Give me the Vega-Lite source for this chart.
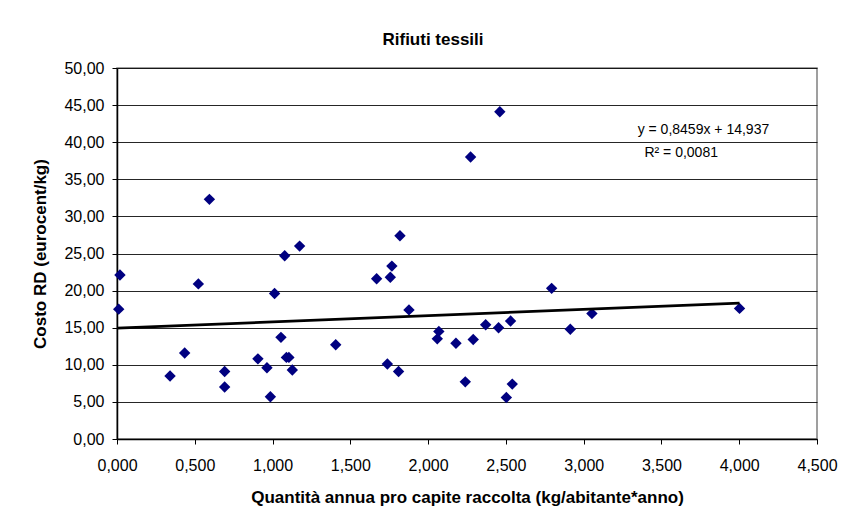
{
  "$schema": "https://vega.github.io/schema/vega-lite/v6.json",
  "autosize": "none",
  "width": 700,
  "height": 371,
  "padding": {"left": 117, "top": 68, "right": 33, "bottom": 85},
  "background": "white",
  "title": {
    "text": "Rifiuti tessili",
    "font": "Liberation Sans",
    "fontSize": 17,
    "fontWeight": "bold",
    "color": "black",
    "anchor": "middle",
    "frame": "group",
    "dx": -34,
    "offset": 11
  },
  "datasets": {
    "points": [
      {"q": 0.011, "c": 17.5}, {"q": 0.019, "c": 22.1}, {"q": 0.341, "c": 8.5},
      {"q": 0.435, "c": 11.6}, {"q": 0.523, "c": 20.9}, {"q": 0.594, "c": 32.3},
      {"q": 0.692, "c": 9.1}, {"q": 0.692, "c": 7.0}, {"q": 0.906, "c": 10.8},
      {"q": 0.964, "c": 9.6}, {"q": 0.986, "c": 5.7}, {"q": 1.013, "c": 19.6},
      {"q": 1.054, "c": 13.7}, {"q": 1.078, "c": 24.7}, {"q": 1.089, "c": 11.0},
      {"q": 1.105, "c": 11.0}, {"q": 1.127, "c": 9.3}, {"q": 1.174, "c": 26.0},
      {"q": 1.406, "c": 12.7}, {"q": 1.669, "c": 21.6}, {"q": 1.738, "c": 10.1},
      {"q": 1.757, "c": 21.8}, {"q": 1.767, "c": 23.3}, {"q": 1.81, "c": 9.1},
      {"q": 1.819, "c": 27.4}, {"q": 1.877, "c": 17.4}, {"q": 2.059, "c": 13.5},
      {"q": 2.069, "c": 14.5}, {"q": 2.179, "c": 12.9}, {"q": 2.239, "c": 7.7},
      {"q": 2.273, "c": 38.0}, {"q": 2.29, "c": 13.4}, {"q": 2.37, "c": 15.4},
      {"q": 2.453, "c": 15.0}, {"q": 2.461, "c": 44.1}, {"q": 2.503, "c": 5.6},
      {"q": 2.53, "c": 15.9}, {"q": 2.541, "c": 7.4}, {"q": 2.794, "c": 20.3},
      {"q": 2.914, "c": 14.8}, {"q": 3.053, "c": 16.9}, {"q": 4.002, "c": 17.6}
    ],
    "trend": [
      {"q": 0.0, "c": 14.937},
      {"q": 4.002, "c": 18.322}
    ],
    "labels": [
      {"q": 3.77, "c": 41.1, "t": "y = 0,8459x + 14,937"},
      {"q": 3.627, "c": 38.0, "t": "R² = 0,0081"}
    ]
  },
  "encoding": {
    "x": {
      "field": "q", "type": "quantitative",
      "scale": {"domain": [0, 4.5], "nice": false, "zero": false},
      "axis": {
        "title": "Quantità annua pro capite raccolta (kg/abitante*anno)",
        "values": [0, 0.5, 1, 1.5, 2, 2.5, 3, 3.5, 4, 4.5],
        "format": ".3f",
        "grid": false,
        "labelFlush": false,
        "labelOverlap": false,
        "labelPadding": 13,
        "titlePadding": 16
      }
    },
    "y": {
      "field": "c", "type": "quantitative",
      "scale": {"domain": [0, 50], "nice": false},
      "axis": {
        "title": "Costo RD (eurocent/kg)",
        "values": [0, 5, 10, 15, 20, 25, 30, 35, 40, 45, 50],
        "format": ".2f",
        "grid": true,
        "labelFlush": false,
        "labelOverlap": false,
        "labelPadding": 8,
        "titlePadding": 14
      }
    }
  },
  "layer": [
    {
      "data": {"name": "points"},
      "mark": {"type": "point", "shape": "diamond", "filled": true, "size": 130, "color": "#000080", "opacity": 1}
    },
    {
      "data": {"name": "trend"},
      "mark": {"type": "line", "color": "black", "strokeWidth": 2.8}
    },
    {
      "data": {"name": "labels"},
      "mark": {"type": "text", "align": "center", "baseline": "alphabetic", "font": "Liberation Sans", "fontSize": 14, "color": "black"},
      "encoding": {
        "text": {"field": "t", "type": "nominal"}
      }
    }
  ],
  "config": {
    "locale": {"number": {"decimal": ",", "thousands": ".", "grouping": [3], "currency": ["€", ""]}},
    "view": {"stroke": "#808080", "strokeWidth": 1.5},
    "axis": {
      "labelFont": "Liberation Sans",
      "labelFontSize": 16,
      "labelColor": "black",
      "titleFont": "Liberation Sans",
      "titleFontSize": 17,
      "titleFontWeight": "bold",
      "titleColor": "black",
      "domainColor": "black",
      "domainWidth": 1.5,
      "tickColor": "black",
      "tickSize": 5,
      "tickWidth": 1,
      "gridColor": "black",
      "gridWidth": 1,
      "gridOpacity": 0.85
    }
  }
}
